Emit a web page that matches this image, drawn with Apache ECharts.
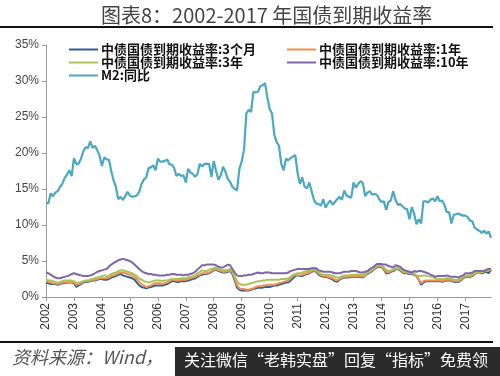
<!DOCTYPE html>
<html>
<head>
<meta charset="utf-8">
<script src="https://cdn.jsdelivr.net/npm/echarts@6/dist/echarts.min.js"></script>
<style>
  html, body { margin: 0; padding: 0; background: #fff; }
  #chart { width: 500px; height: 376px; }
</style>
</head>
<body>
<div id="chart"></div>
<script>
// 月度数据 2002-01 ~ 2017-12
var years = ['2002','2003','2004','2005','2006','2007','2008','2009','2010','2011','2012','2013','2014','2015','2016','2017'];
var yTicks = [0, 5, 10, 15, 20, 25, 30, 35];

var bond3m = [
  2.0,1.9,1.8,1.8,1.8,1.7,1.8,1.9,1.9,2.0,2.0,2.0,
  1.9,1.4,1.6,1.8,2.0,2.1,2.1,2.2,2.3,2.3,2.4,2.5,
  2.5,2.4,2.4,2.5,2.7,2.8,2.9,3.1,3.2,3.0,2.9,2.8,
  2.7,2.6,2.4,2.0,1.6,1.4,1.3,1.2,1.3,1.4,1.5,1.6,
  1.6,1.6,1.6,1.7,1.8,2.0,2.2,2.2,2.1,2.1,2.2,2.2,
  2.2,2.3,2.4,2.5,2.6,2.8,3.0,3.1,3.2,3.2,3.3,3.5,
  3.7,3.8,3.6,3.5,3.4,3.4,3.5,3.6,3.2,2.3,1.3,1.0,
  0.9,0.9,0.9,0.9,1.0,1.1,1.2,1.3,1.3,1.3,1.4,1.4,
  1.4,1.5,1.6,1.6,1.7,1.8,1.9,2.0,2.0,2.3,2.6,2.9,
  3.0,2.9,2.9,3.1,3.2,3.3,3.5,3.6,3.5,3.1,2.9,2.8,
  2.8,2.7,2.6,2.4,2.2,2.1,2.4,2.6,2.7,2.7,2.7,2.8,
  2.8,2.8,2.8,2.8,2.7,3.0,3.2,3.4,3.6,3.9,4.1,4.2,
  4.2,3.8,3.3,3.3,3.5,3.6,3.8,3.9,3.7,3.4,3.3,3.3,
  3.2,3.2,3.1,2.9,2.4,1.7,2.0,2.2,2.2,2.2,2.2,2.2,
  2.2,2.2,2.1,2.2,2.3,2.3,2.2,2.1,2.1,2.1,2.3,2.6,
  2.8,2.8,2.8,2.9,3.2,3.4,3.4,3.3,3.4,3.5,3.3,3.8
];
var bond1y = [
  2.2,2.1,2.0,1.9,1.9,1.8,1.9,2.0,2.0,2.1,2.1,2.1,
  2.0,1.7,1.8,1.9,2.1,2.2,2.2,2.3,2.4,2.4,2.5,2.6,
  2.6,2.6,2.6,2.7,2.9,3.0,3.1,3.3,3.4,3.4,3.3,3.2,
  3.1,3.0,2.8,2.5,2.1,1.8,1.6,1.4,1.5,1.6,1.8,1.9,
  1.9,1.9,1.8,1.9,2.0,2.2,2.4,2.4,2.3,2.3,2.4,2.4,
  2.4,2.5,2.6,2.7,2.8,3.0,3.1,3.3,3.3,3.3,3.4,3.6,
  3.8,3.9,3.7,3.6,3.5,3.5,3.6,3.7,3.4,2.6,1.6,1.2,
  1.1,1.1,1.0,1.0,1.1,1.2,1.4,1.5,1.5,1.6,1.6,1.7,
  1.7,1.7,1.7,1.8,1.9,2.0,2.1,2.2,2.3,2.6,2.9,3.1,
  3.0,3.0,3.1,3.2,3.3,3.4,3.6,3.7,3.6,3.3,3.0,2.9,
  2.9,2.8,2.7,2.6,2.4,2.3,2.5,2.7,2.8,2.8,2.8,2.9,
  2.9,2.9,2.9,2.9,2.8,3.0,3.3,3.5,3.7,4.0,4.2,4.3,
  4.3,3.9,3.5,3.4,3.6,3.7,3.9,4.0,3.8,3.5,3.4,3.4,
  3.3,3.3,3.2,2.9,2.4,1.9,2.2,2.3,2.3,2.3,2.3,2.3,
  2.3,2.3,2.2,2.3,2.4,2.4,2.3,2.2,2.2,2.2,2.4,2.7,
  2.9,2.9,2.9,3.0,3.3,3.4,3.4,3.4,3.5,3.6,3.7,3.8
];
var bond3y = [
  2.4,2.3,2.3,2.2,2.1,2.0,2.1,2.2,2.3,2.3,2.3,2.3,
  2.2,1.9,2.0,2.1,2.2,2.3,2.3,2.4,2.5,2.6,2.7,2.8,
  2.9,3.0,2.9,3.0,3.2,3.3,3.4,3.6,3.7,3.7,3.6,3.5,
  3.4,3.3,3.1,2.9,2.6,2.4,2.2,2.1,2.0,2.1,2.2,2.3,
  2.3,2.3,2.2,2.3,2.3,2.4,2.5,2.5,2.5,2.5,2.6,2.6,
  2.6,2.7,2.8,2.9,3.0,3.3,3.5,3.7,3.6,3.6,3.8,3.9,
  4.0,4.1,3.9,3.8,3.7,3.7,3.8,3.9,3.6,2.9,2.2,1.8,
  1.7,1.7,1.7,1.8,1.9,2.0,2.1,2.2,2.2,2.3,2.3,2.4,
  2.4,2.4,2.4,2.4,2.4,2.5,2.5,2.5,2.6,2.8,3.1,3.2,
  3.3,3.3,3.4,3.5,3.6,3.6,3.7,3.8,3.8,3.5,3.2,3.1,
  3.1,3.1,3.0,3.0,2.8,2.7,2.7,2.9,3.0,3.0,3.0,3.1,
  3.1,3.1,3.1,3.1,3.0,3.2,3.4,3.6,3.8,4.1,4.3,4.4,
  4.4,4.1,3.8,3.6,3.7,3.8,4.0,4.0,3.9,3.6,3.5,3.5,
  3.4,3.3,3.3,3.0,2.9,2.9,3.0,3.0,2.9,2.8,2.8,2.6,
  2.5,2.5,2.5,2.5,2.6,2.6,2.5,2.4,2.4,2.4,2.6,2.8,
  3.0,3.0,3.0,3.2,3.4,3.5,3.5,3.5,3.6,3.7,3.8,3.8
];
var bond10y = [
  3.4,3.3,3.1,2.9,2.7,2.6,2.6,2.7,2.8,2.9,3.0,3.2,
  3.3,3.2,3.1,3.0,2.9,2.9,2.9,3.0,3.1,3.3,3.5,3.6,
  3.7,3.8,3.9,4.2,4.5,4.7,4.9,5.1,5.2,5.3,5.2,5.1,
  5.0,4.8,4.5,4.2,3.9,3.6,3.4,3.3,3.2,3.2,3.1,3.1,
  3.0,3.0,3.0,3.0,3.1,3.1,3.2,3.2,3.1,3.1,3.1,3.0,
  3.1,3.1,3.2,3.3,3.5,3.8,4.1,4.4,4.4,4.5,4.5,4.5,
  4.5,4.4,4.2,4.1,4.1,4.3,4.5,4.4,3.9,3.4,3.0,2.9,
  2.9,3.0,3.0,3.1,3.1,3.2,3.3,3.4,3.3,3.3,3.4,3.4,
  3.4,3.3,3.3,3.3,3.3,3.3,3.3,3.3,3.4,3.6,3.7,3.8,
  3.9,3.9,3.9,3.9,3.9,3.9,4.0,4.0,4.0,3.7,3.6,3.5,
  3.5,3.5,3.5,3.4,3.3,3.3,3.3,3.4,3.5,3.5,3.5,3.6,
  3.6,3.6,3.5,3.4,3.4,3.5,3.6,3.9,4.1,4.3,4.6,4.6,
  4.6,4.5,4.5,4.3,4.2,4.1,4.4,4.3,4.2,3.9,3.7,3.6,
  3.5,3.4,3.6,3.5,3.6,3.6,3.5,3.4,3.3,3.1,3.0,2.8,
  2.9,2.9,2.9,2.9,3.0,2.9,2.8,2.8,2.8,2.7,2.9,3.0,
  3.3,3.3,3.3,3.4,3.6,3.6,3.6,3.6,3.6,3.8,3.9,3.9
];
var m2 = [
  13.1,13.0,14.4,14.0,14.5,14.7,15.3,15.7,16.5,17.0,17.6,16.8,
  19.3,18.5,18.5,19.2,20.2,20.8,20.7,21.6,20.7,21.0,20.4,19.6,
  18.2,19.4,19.1,19.1,17.5,16.2,15.3,13.6,13.9,13.5,14.0,14.6,
  14.1,13.9,14.0,14.1,14.6,15.7,16.3,16.6,17.9,18.0,18.3,17.6,
  19.2,18.8,18.8,18.9,19.1,18.4,18.4,17.9,16.8,17.1,16.8,16.9,
  15.9,17.8,17.3,17.1,16.7,17.1,18.5,18.1,18.5,18.5,18.5,16.7,
  18.9,17.5,16.3,16.9,18.1,17.4,16.4,16.0,15.3,15.0,14.8,17.8,
  18.8,20.5,25.5,26.0,25.7,28.5,28.4,28.5,29.3,29.4,29.7,27.7,
  26.1,25.5,22.5,21.5,21.0,18.5,17.6,19.2,19.0,19.3,19.5,19.7,
  17.2,15.7,16.6,15.3,15.1,15.9,14.7,13.5,13.0,12.9,12.7,13.6,
  12.4,13.0,13.4,12.8,13.2,13.6,13.9,13.5,14.8,14.1,13.9,13.8,
  15.9,15.2,15.7,16.1,15.8,14.0,14.5,14.7,14.2,14.3,14.2,13.6,
  13.2,13.3,12.1,13.2,13.4,14.7,13.5,12.8,12.9,12.6,12.3,12.2,
  10.8,12.5,11.6,10.1,10.8,10.2,13.3,13.3,13.1,13.5,13.7,13.3,
  14.0,13.3,13.4,12.8,11.8,11.8,10.2,11.4,11.5,11.6,11.4,11.3,
  11.3,11.1,10.6,10.5,9.6,9.4,9.2,8.9,9.2,8.8,9.1,8.2
];

var months = [];
years.forEach(function(y){
    for (var m = 1; m <= 12; m++){
        months.push(y + '-' + (m < 10 ? '0' + m : m));
    }
});

var names = ['中债国债到期收益率:3个月','中债国债到期收益率:1年','中债国债到期收益率:3年','中债国债到期收益率:10年','M2:同比'];
var colors = ['#2f5f98','#f0904a','#a9c25c','#7e67a6','#4aa8c0'];

//只在每年1月显示刻度和标签
var isJan = function(idx, val){ return val.slice(5) === '01'; };

var lineSeries = function(i, data, w){
    return {
        name: names[i],
        type: 'line',
        data: data,
        showSymbol: false,
        symbol: 'none',
        lineStyle: { width: w, color: colors[i] },
        itemStyle: { color: colors[i] },
        z: i == 4 ? 2 : 3
    };
};

var legendText = { fontSize: 13, fontWeight: 'bold', color: '#111', lineHeight: 11, fontFamily: 'Noto Sans CJK SC', padding: [0, 0, 0, -2] };

var chart = echarts.init(document.getElementById('chart'));
chart.setOption({
    animation: false,
    title: {
        text: '图表8：2002-2017 年国债到期收益率',
        left: 96,
        top: 0,
        textStyle: { fontFamily: 'Noto Sans CJK SC', fontSize: 20, fontWeight: 'normal', color: '#444' }
    },
    legend: [
        {
            data: [names[0], names[2], names[4]],
            orient: 'vertical',
            left: 64, top: 38,
            itemGap: 0, itemWidth: 29, itemHeight: 2, icon: 'rect',
            textStyle: legendText
        },
        {
            data: [names[1], names[3]],
            orient: 'vertical',
            left: 282, top: 38,
            itemGap: 0, itemWidth: 29, itemHeight: 2, icon: 'rect',
            textStyle: legendText
        }
    ],
    grid: { left: 46, right: 9, top: 45, bottom: 79, containLabel: false },
    xAxis: {
        type: 'category',
        data: months,
        boundaryGap: false,
        axisLine: { lineStyle: { color: '#999' } },
        axisTick: { interval: isJan, length: 4, lineStyle: { color: '#999' } },
        axisLabel: {
            interval: isJan,
            rotate: 90,
            formatter: function(v){ return v.slice(0, 4); },
            fontSize: 12, color: '#333', margin: 6, fontFamily: 'Liberation Sans'
        }
    },
    yAxis: {
        type: 'value',
        min: yTicks[0], max: yTicks[yTicks.length - 1], interval: 5,
        axisLine: { show: true, lineStyle: { color: '#999' } },
        axisTick: { show: true, length: 4, lineStyle: { color: '#999' } },
        splitLine: { show: false },
        axisLabel: { formatter: '{value}%', fontSize: 12, color: '#444', margin: 7, fontFamily: 'Liberation Sans' }
    },
    series: [
        lineSeries(4, m2, 2.2),
        lineSeries(0, bond3m, 2),
        lineSeries(1, bond1y, 2),
        lineSeries(2, bond3y, 2),
        lineSeries(3, bond10y, 2)
    ],
    graphic: [
        { type: 'rect', shape: { x: 0, y: 26, width: 493, height: 2 }, style: { fill: '#111' } },
        { type: 'rect', shape: { x: 0, y: 341, width: 493, height: 2 }, style: { fill: '#111' } },
        { type: 'text', left: 12, top: 348, style: { text: '资料来源：Wind，', fontSize: 18, fontStyle: 'italic', fill: '#555', fontFamily: 'Noto Sans CJK SC' } },
        { type: 'rect', shape: { x: 175, y: 347, width: 325, height: 29 }, style: { fill: '#2b2b2b' } },
        { type: 'text', left: 184, top: 352, style: { text: '关注微信“老韩实盘”回复“指标”免费领', fontSize: 16, fill: '#fff', fontFamily: 'Noto Sans CJK SC' } }
    ]
});
</script>
</body>
</html>
